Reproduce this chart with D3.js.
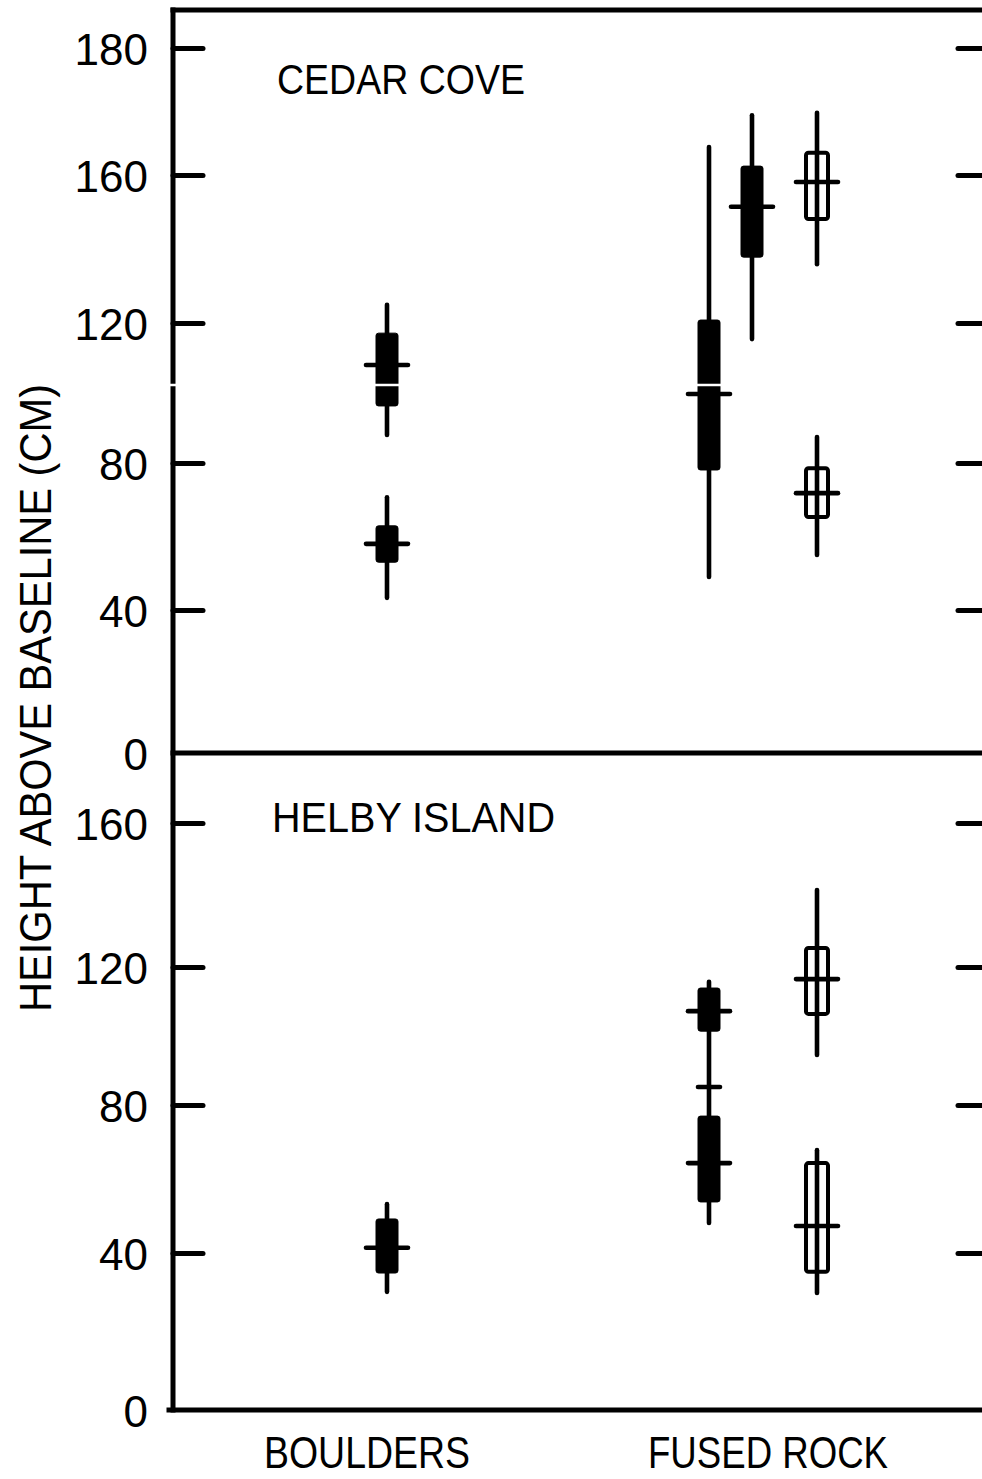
<!DOCTYPE html>
<html>
<head>
<meta charset="utf-8">
<script src="https://cdn.jsdelivr.net/npm/d3@7"></script>
<style>
  html, body { margin: 0; padding: 0; background: #fff; }
  svg { display: block; }
  text { font-family: "Liberation Sans", Arial, sans-serif; fill: #000; }
</style>
</head>
<body>
<svg id="chart" width="982" height="1479"></svg>
<script>
// ---------------- data ----------------
const panels = ["CEDAR COVE", "HELBY ISLAND"];
const categories = ["BOULDERS", "FUSED ROCK"];
const topTicks = [0, 40, 80, 120, 160, 180];
const bottomTicks = [0, 40, 80, 120, 160];
const yLabel = "HEIGHT ABOVE BASELINE (CM)";

// one entry per glyph (whisker + box + median)
const glyphPanel    = ["CEDAR COVE","CEDAR COVE","CEDAR COVE","CEDAR COVE","CEDAR COVE","CEDAR COVE",
                       "HELBY ISLAND","HELBY ISLAND","HELBY ISLAND","HELBY ISLAND","HELBY ISLAND"];
const glyphCategory = ["BOULDERS","BOULDERS","FUSED ROCK","FUSED ROCK","FUSED ROCK","FUSED ROCK",
                       "BOULDERS","FUSED ROCK","FUSED ROCK","FUSED ROCK","FUSED ROCK"];
const glyphSlot     = [1, 1, 1, 2, 3, 3, 1, 1, 1, 3, 3];
const glyphFilled   = [true, true, true, true, false, false, true, true, true, false, false];
const whiskerLow    = [88.0, 43.3, 49.0, 115.4, 135.9, 55.0, 30.1, 85.2, 48.1, 94.5, 29.8];
const boxLow        = [96.3, 53.0, 78.1, 137.8, 148.1, 65.3, 34.9, 101.4, 53.8, 106.4, 35.2];
const medianValue   = [108.0, 58.0, 99.7, 151.4, 158.1, 71.8, 41.4, 107.2, 64.3, 116.5, 47.3];
const boxHigh       = [117.1, 62.9, 120.8, 161.4, 163.5, 78.6, 49.2, 113.9, 77.0, 125.3, 64.3];
const whiskerHigh   = [124.9, 70.7, 164.4, 169.4, 169.8, 87.4, 53.2, 115.7, 85.2, 141.4, 67.8];

// extra short cross-mark on the Helby fused-rock column
const extraPanel = ["HELBY ISLAND"];
const extraCategory = ["FUSED ROCK"];
const extraSlot = [1];
const extraValue = [85.2];

// ---------------- layout ----------------
const axisX = 173, rightX = 982;
const svg = d3.select("#chart");

const y = {
  "CEDAR COVE": d3.scaleLinear().domain([0, 40, 80, 120, 160, 180]).range([753, 610, 463, 323, 175, 48]),
  "HELBY ISLAND": d3.scaleLinear().domain([0, 40, 80, 120, 160]).range([1410, 1253, 1105, 967, 823])
};
const panelTicks = { "CEDAR COVE": topTicks, "HELBY ISLAND": bottomTicks };
const panelTitlePos = { "CEDAR COVE": [277, 94, 248], "HELBY ISLAND": [272, 832, 283] };

const xCat = d3.scalePoint().domain(categories).range([367, 768]);
const xSlot = d3.scaleOrdinal()
  .domain(["BOULDERS|1", "FUSED ROCK|1", "FUSED ROCK|2", "FUSED ROCK|3"])
  .range([387, 709, 752, 817]);

const glyphs = glyphPanel.map((p, i) => ({
  panel: p, cat: glyphCategory[i], slot: glyphSlot[i], filled: glyphFilled[i],
  wl: whiskerLow[i], q1: boxLow[i], med: medianValue[i], q3: boxHigh[i], wh: whiskerHigh[i]
}));

const lw = 4.6;
const black = "#000";

// frame lines
const frame = svg.append("g").attr("stroke", black).attr("stroke-width", 5).attr("stroke-linecap", "square");
frame.append("line").attr("x1", axisX).attr("x2", axisX).attr("y1", 10).attr("y2", y["HELBY ISLAND"](0));
frame.append("line").attr("x1", axisX).attr("x2", rightX).attr("y1", 10).attr("y2", 10);
frame.append("line").attr("x1", axisX).attr("x2", rightX).attr("y1", y["CEDAR COVE"](0)).attr("y2", y["CEDAR COVE"](0));
frame.append("line").attr("x1", 169).attr("x2", rightX).attr("y1", y["HELBY ISLAND"](0)).attr("y2", y["HELBY ISLAND"](0));

// axes per panel
panels.forEach(p => {
  const ticks = panelTicks[p];
  const left = svg.append("g").attr("transform", `translate(${axisX},0)`)
    .call(d3.axisLeft(y[p]).tickValues(ticks).tickSize(-30).tickSizeOuter(0).tickPadding(25).tickFormat(d3.format("d")));
  left.select(".domain").remove();
  left.selectAll(".tick line").attr("stroke", black).attr("stroke-width", 5).attr("stroke-linecap", "round")
    .attr("display", d => d === 0 ? "none" : null);
  left.selectAll(".tick text").attr("font-size", 44).attr("font-family", "Liberation Sans, Arial, sans-serif")
    .attr("fill", black).attr("dy", "0.38em");

  const right = svg.append("g").attr("transform", `translate(${rightX},0)`)
    .call(d3.axisRight(y[p]).tickValues(ticks.filter(t => t > 0)).tickSize(-24).tickSizeOuter(0).tickFormat(""));
  right.select(".domain").remove();
  right.selectAll(".tick line").attr("stroke", black).attr("stroke-width", 5).attr("stroke-linecap", "round");

  const tp = panelTitlePos[p];
  svg.append("text").attr("x", tp[0]).attr("y", tp[1]).attr("font-size", 42)
    .attr("textLength", tp[2]).attr("lengthAdjust", "spacingAndGlyphs").text(p);
});

// glyphs
const boxW = 22, medW = 42;
const gx = d => xSlot(d.cat + "|" + d.slot);
const g = svg.append("g");
const gg = g.selectAll("g.glyph").data(glyphs).join("g").attr("class", "glyph");
gg.append("line")
  .attr("x1", gx).attr("x2", gx)
  .attr("y1", d => y[d.panel](d.wh)).attr("y2", d => y[d.panel](d.wl))
  .attr("stroke", black).attr("stroke-width", lw).attr("stroke-linecap", "round");
gg.append("rect")
  .attr("x", d => gx(d) - boxW / 2).attr("width", boxW)
  .attr("y", d => y[d.panel](d.q3)).attr("height", d => y[d.panel](d.q1) - y[d.panel](d.q3))
  .attr("rx", 2.5)
  .attr("fill", d => d.filled ? black : "none")
  .attr("stroke", black).attr("stroke-width", d => d.filled ? 1 : 4);
gg.append("line")
  .attr("x1", d => gx(d) - medW / 2).attr("x2", d => gx(d) + medW / 2)
  .attr("y1", d => y[d.panel](d.med)).attr("y2", d => y[d.panel](d.med))
  .attr("stroke", black).attr("stroke-width", lw).attr("stroke-linecap", "round");

// extra cross mark
extraPanel.forEach((p, i) => {
  const cx = xSlot(extraCategory[i] + "|" + extraSlot[i]);
  const cy = y[p](extraValue[i]);
  svg.append("line").attr("x1", cx - 11).attr("x2", cx + 11).attr("y1", cy).attr("y2", cy)
    .attr("stroke", black).attr("stroke-width", lw).attr("stroke-linecap", "round");
});

// faint scan gap across the upper panel
svg.append("line").attr("x1", 165).attr("x2", 740).attr("y1", 385).attr("y2", 385)
  .attr("stroke", "#fff").attr("stroke-width", 2.5);

// category labels
svg.append("g").selectAll("text").data(categories).join("text")
  .attr("x", d => xCat(d)).attr("y", 1468).attr("text-anchor", "middle")
  .attr("font-size", 44)
  .attr("textLength", d => d === "BOULDERS" ? 206 : 240).attr("lengthAdjust", "spacingAndGlyphs")
  .text(d => d);

// y-axis title
svg.append("text")
  .attr("transform", "translate(51,698) rotate(-90)")
  .attr("text-anchor", "middle").attr("font-size", 45)
  .attr("textLength", 628).attr("lengthAdjust", "spacingAndGlyphs")
  .text(yLabel);
</script>
</body>
</html>
